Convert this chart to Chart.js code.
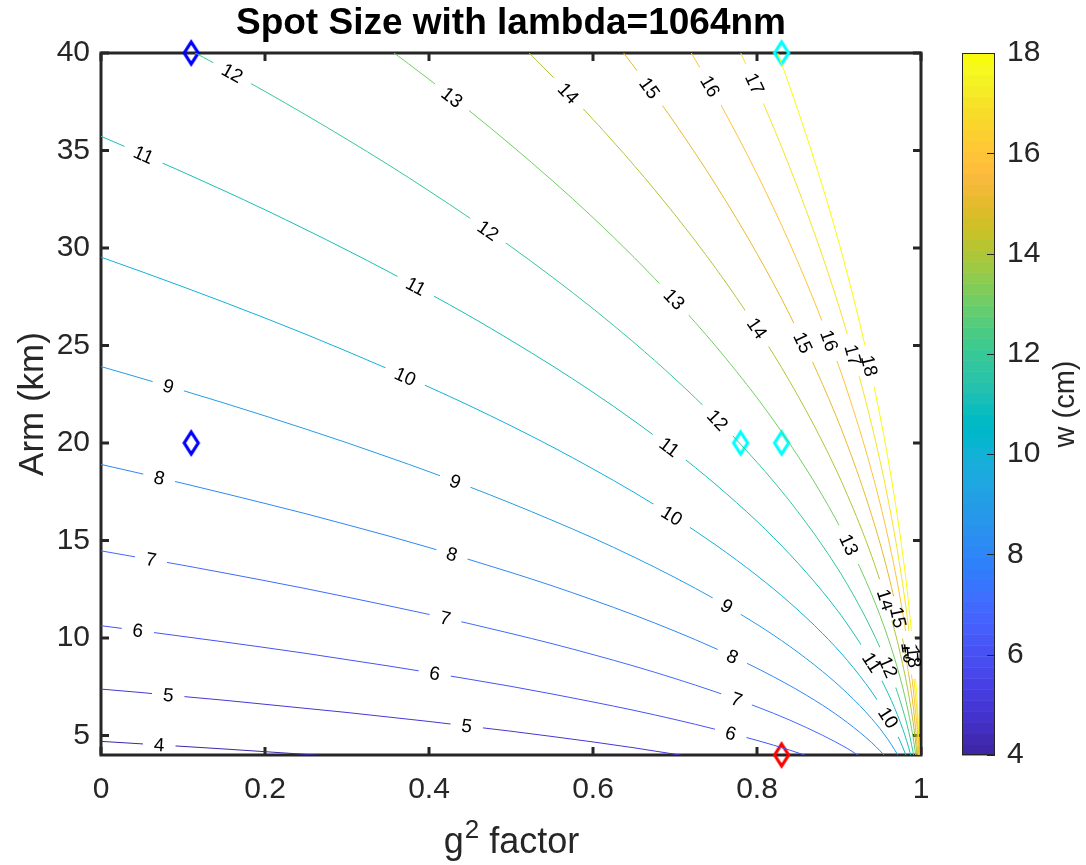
<!DOCTYPE html>
<html><head><meta charset="utf-8">
<script src="https://cdn.jsdelivr.net/npm/chart.js@4.4.1/dist/chart.umd.min.js"></script>
<style>html,body{margin:0;padding:0;background:#fff;}canvas{display:block;}</style>
</head><body>
<canvas id="c" width="1086" height="865" style="width:1086px;height:865px"></canvas>
<script>
// ---------- data ----------
const g2 = [0,0.05,0.1,0.15,0.2,0.25,0.3,0.35,0.4,0.45,0.5,0.55,0.6,0.65,0.7,0.75,0.8,0.84,0.88,0.91,0.94,0.96,0.975,0.985,0.992,0.997,1];
const levels = [4,5,6,7,8,9,10,11,12,13,14,15,16,17,18];
const arm_w4  = [4.70,4.57,4.44,4.31,4.17,4.03,3.89];
const arm_w5  = [7.38,7.20,7.00,6.81,6.60,6.39,6.18,5.95,5.72,5.47,5.22,4.95,4.67,4.37,4.04,3.69];
const arm_w6  = [10.63,10.36,10.08,9.80,9.51,9.21,8.89,8.57,8.23,7.88,7.52,7.13,6.72,6.29,5.82,5.31,4.75,4.25,3.68];
const arm_w7  = [14.47,14.10,13.73,13.34,12.94,12.53,12.10,11.66,11.21,10.73,10.23,9.71,9.15,8.56,7.92,7.23,6.47,5.79,5.01,4.34,3.54];
const arm_w8  = [18.90,18.42,17.93,17.42,16.90,16.37,15.81,15.24,14.64,14.01,13.36,12.68,11.95,11.18,10.35,9.45,8.45,7.56,6.55,5.67,4.63,3.78];
const arm_w9  = [23.92,23.31,22.69,22.05,21.39,20.71,20.01,19.28,18.53,17.74,16.91,16.04,15.13,14.15,13.10,11.96,10.70,9.57,8.28,7.17,5.86,4.78,3.78];
const arm_w10 = [29.53,28.78,28.01,27.22,26.41,25.57,24.70,23.80,22.87,21.90,20.88,19.81,18.67,17.47,16.17,14.76,13.20,11.81,10.23,8.86,7.23,5.91,4.67,3.62];
const arm_w11 = [35.73,34.82,33.89,32.94,31.96,30.94,29.89,28.80,27.67,26.50,25.26,23.97,22.60,21.14,19.57,17.86,15.98,14.29,12.38,10.72,8.75,7.15,5.65,4.38,3.20];
const arm_w12 = [42.52,41.44,40.34,39.20,38.03,36.82,35.57,34.28,32.93,31.53,30.07,28.52,26.89,25.15,23.29,21.26,19.01,17.01,14.73,12.76,10.41,8.50,6.72,5.21,3.80];
const arm_w13 = [null,null,null,null,null,null,41.75,40.23,38.65,37.01,35.28,33.47,31.56,29.52,27.33,24.95,22.32,19.96,17.29,14.97,12.22,9.98,7.89,6.11,4.46,2.73];
const arm_w14 = [null,null,null,null,null,null,null,null,null,42.92,40.92,38.82,36.60,34.24,31.70,28.94,25.88,23.15,20.05,17.36,14.18,11.57,9.15,7.09,5.18,3.17];
const arm_w15 = [null,null,null,null,null,null,null,null,null,null,null,null,42.02,39.30,36.39,33.22,29.71,26.57,23.01,19.93,16.27,13.29,10.50,8.14,5.94,3.64];
const arm_w16 = [null,null,null,null,null,null,null,null,null,null,null,null,null,44.72,41.40,37.79,33.80,30.23,26.18,22.68,18.52,15.12,11.95,9.26,6.76,4.14,0];
const arm_w17 = [null,null,null,null,null,null,null,null,null,null,null,null,null,null,46.74,42.67,38.16,34.13,29.56,25.60,20.90,17.07,13.49,10.45,7.63,4.67,0];
const arm_w18 = [null,null,null,null,null,null,null,null,null,null,null,null,null,null,null,47.83,42.78,38.27,33.14,28.70,23.43,19.13,15.13,11.72,8.56,5.24,0];
const armByLevel = [arm_w4,arm_w5,arm_w6,arm_w7,arm_w8,arm_w9,arm_w10,arm_w11,arm_w12,arm_w13,arm_w14,arm_w15,arm_w16,arm_w17,arm_w18];

const labelLevel = [12,13,14,15,16,17,11,12,11,13,14,15,16,17,18,10,9,12,11,8,9,10,13,8,7,9,7,6,14,15,16,17,18,11,12,10,8,6,5,7,5,6,4];
const labelG2    = [0.16,0.428,0.57,0.669,0.743,0.797,0.052,0.472,0.384,0.699,0.80,0.856,0.888,0.917,0.937,0.371,0.082,0.752,0.693,0.071,0.432,0.696,0.912,0.428,0.061,0.763,0.42,0.045,0.957,0.972,0.985,0.988,0.991,0.94,0.96,0.96,0.77,0.407,0.082,0.775,0.446,0.768,0.071];

const markerG2  = [0.11,0.11,0.78,0.83,0.83,0.83];
const markerArm = [40,20,20,20,40,4];
const markerColor = ['#0000ff','#0000ff','#00ffff','#00ffff','#00ffff','#ff0000'];

const xTicks  = [0,0.2,0.4,0.6,0.8,1];
const yTicks  = [5,10,15,20,25,30,35,40];
const cbTicks = [4,6,8,10,12,14,16,18];

const titleText = 'Spot Size with lambda=1064nm';
const xTitleBase = 'g', xTitleSup = '2', xTitleRest = ' factor';
const yTitleText = 'Arm (km)';
const cbTitleText = 'w (cm)';

// ---------- style ----------
const FONT = "'Liberation Sans', Arial, Helvetica, sans-serif";
const AX = '#262626';
const parula = [[0.2422,0.1504,0.6603],[0.2504,0.1650,0.7076],[0.2578,0.1818,0.7511],[0.2647,0.1978,0.7952],[0.2706,0.2147,0.8364],[0.2751,0.2342,0.8710],[0.2783,0.2559,0.8991],[0.2803,0.2782,0.9221],[0.2813,0.3006,0.9414],[0.2810,0.3228,0.9579],[0.2795,0.3447,0.9717],[0.2760,0.3667,0.9829],[0.2699,0.3892,0.9906],[0.2602,0.4123,0.9952],[0.2440,0.4358,0.9988],[0.2206,0.4603,0.9973],[0.1963,0.4847,0.9892],[0.1834,0.5074,0.9798],[0.1786,0.5289,0.9682],[0.1764,0.5499,0.9520],[0.1687,0.5703,0.9359],[0.1540,0.5902,0.9218],[0.1460,0.6091,0.9079],[0.1380,0.6276,0.8973],[0.1248,0.6459,0.8883],[0.1113,0.6635,0.8763],[0.0952,0.6798,0.8598],[0.0689,0.6948,0.8394],[0.0297,0.7082,0.8163],[0.0036,0.7203,0.7917],[0.0067,0.7312,0.7660],[0.0433,0.7411,0.7394],[0.0964,0.7500,0.7120],[0.1408,0.7584,0.6842],[0.1717,0.7670,0.6554],[0.1938,0.7758,0.6251],[0.2161,0.7843,0.5923],[0.2470,0.7918,0.5567],[0.2906,0.7973,0.5188],[0.3406,0.8008,0.4789],[0.3909,0.8029,0.4354],[0.4456,0.8024,0.3909],[0.5044,0.7993,0.3480],[0.5616,0.7942,0.3045],[0.6174,0.7876,0.2612],[0.6720,0.7793,0.2227],[0.7242,0.7698,0.1910],[0.7738,0.7598,0.1646],[0.8203,0.7498,0.1535],[0.8634,0.7406,0.1596],[0.9035,0.7330,0.1774],[0.9393,0.7288,0.2100],[0.9728,0.7298,0.2394],[0.9956,0.7434,0.2371],[0.9970,0.7659,0.2199],[0.9952,0.7893,0.2028],[0.9892,0.8136,0.1885],[0.9818,0.8380,0.1754],[0.9720,0.8633,0.1663],[0.9631,0.8915,0.1566],[0.9599,0.9218,0.1486],[0.9600,0.9500,0.1400],[0.9643,0.9728,0.1265],[0.9763,0.9831,0.0538]];
function cmap(k){const c=parula[Math.max(0,Math.min(63,k))];return 'rgb('+Math.round(c[0]*255)+','+Math.round(c[1]*255)+','+Math.round(c[2]*255)+')';}
function levelColor(v){return cmap(Math.floor((v-4)/14*64));}

function diamond(color){
  const cv=document.createElement('canvas'); cv.width=22; cv.height=30;
  const c=cv.getContext('2d'); c.strokeStyle=color; c.lineWidth=3.2; c.lineJoin='miter';
  c.beginPath(); c.moveTo(11,4); c.lineTo(18,15); c.lineTo(11,26); c.lineTo(4,15); c.closePath(); c.stroke();
  return cv;
}

const datasets = levels.map((lv,i)=>({
  label:'w='+lv, data: armByLevel[i].map((v,j)=>({x:g2[j], y:v})),
  borderColor: levelColor(lv), borderWidth:1, pointRadius:0, fill:false,
  cubicInterpolationMode:'monotone', capBezierPoints:false, spanGaps:false
}));
datasets.push({
  label:'markers', data: markerG2.map((x,i)=>({x:x, y:markerArm[i]})),
  showLine:false, pointStyle: markerColor.map(diamond), pointRadius:10, clip:false
});

const framePlugin = {
  id:'frame',
  beforeDatasetsDraw(chart){
    const {ctx, chartArea:a, scales} = chart;
    ctx.save();
    ctx.strokeStyle=AX; ctx.lineWidth=3; ctx.lineCap='butt';
    const tl=8;
    ctx.beginPath();
    xTicks.forEach(v=>{const p=scales.x.getPixelForValue(v); ctx.moveTo(p,a.bottom); ctx.lineTo(p,a.bottom-tl); ctx.moveTo(p,a.top); ctx.lineTo(p,a.top+tl);});
    yTicks.forEach(v=>{const p=scales.y.getPixelForValue(v); ctx.moveTo(a.left,p); ctx.lineTo(a.left+tl,p); ctx.moveTo(a.right,p); ctx.lineTo(a.right-tl,p);});
    ctx.stroke();
    ctx.strokeRect(a.left,a.top,a.right-a.left,a.bottom-a.top);
    ctx.restore();
  },
  afterDatasetsDraw(chart){
    const {ctx, chartArea:a, scales} = chart;
    ctx.save();
    ctx.beginPath(); ctx.rect(a.left,a.top,a.right-a.left,a.bottom-a.top); ctx.clip();
    ctx.font = '19px '+FONT; ctx.textAlign='center'; ctx.textBaseline='middle';
    labelLevel.forEach((lv,i)=>{
      const di = levels.indexOf(lv);
      const pts = chart.getDatasetMeta(di).data.filter(p=>!p.skip);
      const px = scales.x.getPixelForValue(labelG2[i]);
      for(let k=0;k<pts.length-1;k++){
        const p0=pts[k], p1=pts[k+1];
        if(px>=p0.x && px<=p1.x){
          const t=(px-p0.x)/(p1.x-p0.x);
          const py=p0.y+t*(p1.y-p0.y);
          let ang=Math.atan2(p1.y-p0.y,p1.x-p0.x);
          if(ang>Math.PI/2) ang-=Math.PI; if(ang<=-Math.PI/2) ang+=Math.PI;
          const txt=String(lv); const w=ctx.measureText(txt).width;
          ctx.save(); ctx.translate(px,py); ctx.rotate(ang);
          ctx.fillStyle='#fff'; ctx.fillRect(-w/2-11,-3,w+22,6);
          ctx.fillStyle='#000'; ctx.fillText(txt,0,1);
          ctx.restore();
          break;
        }
      }
    });
    ctx.restore();
  },
  afterDraw(chart){
    const {ctx, chartArea:a, scales} = chart;
    const cb = scales.cb;
    const L=962, R=995;
    ctx.save();
    for(let k=0;k<64;k++){
      const y0=cb.getPixelForValue(4+14*k/64), y1=cb.getPixelForValue(4+14*(k+1)/64);
      ctx.fillStyle=cmap(k); ctx.fillRect(L,y1,R-L,y0-y1+0.5);
    }
    ctx.strokeStyle=AX; ctx.lineWidth=1;
    const top=cb.getPixelForValue(18), bot=cb.getPixelForValue(4);
    ctx.strokeRect(L+0.5,top+0.5,R-L-1,bot-top-1);
    ctx.beginPath();
    cbTicks.forEach(v=>{const p=Math.round(cb.getPixelForValue(v))+0.5; ctx.moveTo(R,p); ctx.lineTo(R-8,p);});
    ctx.stroke();
    // title
    const cx=(a.left+a.right)/2;
    ctx.fillStyle='#000'; ctx.font='bold 37px '+FONT; ctx.textAlign='center'; ctx.textBaseline='middle';
    ctx.fillText(titleText,cx,24);
    // x title with superscript
    ctx.fillStyle=AX; ctx.textAlign='left'; ctx.textBaseline='alphabetic';
    ctx.font='36px '+FONT; const wg=ctx.measureText(xTitleBase).width; const wr=ctx.measureText(xTitleRest).width;
    ctx.font='26px '+FONT; const ws=ctx.measureText(xTitleSup).width;
    let x0=cx-(wg+ws+wr)/2; const base=853;
    ctx.font='36px '+FONT; ctx.fillText(xTitleBase,x0,base);
    ctx.font='26px '+FONT; ctx.fillText(xTitleSup,x0+wg+1,base-15);
    ctx.font='36px '+FONT; ctx.fillText(xTitleRest,x0+wg+ws+1,base);
    // y title
    ctx.save(); ctx.textAlign='center'; ctx.textBaseline='middle'; ctx.font='35px '+FONT;
    ctx.translate(33,(a.top+a.bottom)/2); ctx.rotate(-Math.PI/2); ctx.fillText(yTitleText,0,0);
    ctx.restore();
    // colorbar label
    ctx.fillStyle=AX; ctx.font='29px '+FONT; ctx.textAlign='center'; ctx.textBaseline='middle';
    ctx.translate(1066,(top+bot)/2); ctx.rotate(-Math.PI/2); ctx.fillText(cbTitleText,0,0);
    ctx.restore();
  }
};

function noPad(s){ s.paddingTop=0; s.paddingBottom=0; }
const tickFont = {family:FONT, size:30};
new Chart(document.getElementById('c'), {
  type:'line',
  data:{datasets},
  plugins:[framePlugin],
  options:{
    responsive:false, animation:false, devicePixelRatio:1, events:[],
    layout:{padding:{top:53,left:0,right:0,bottom:0}},
    plugins:{ legend:{display:false}, tooltip:{enabled:false}, title:{display:false} },
    scales:{
      x:{type:'linear', min:0, max:1,
        afterBuildTicks:s=>{s.ticks=xTicks.map(v=>({value:v}));},
        afterFit:s=>{s.height=110; s.paddingLeft=0; s.paddingRight=0;},
        grid:{display:false, drawTicks:false}, border:{display:false},
        ticks:{color:AX, font:tickFont, padding:17, maxRotation:0, autoSkip:false, callback:v=>String(v)}
      },
      y:{type:'linear', min:4, max:40,
        afterBuildTicks:s=>{s.ticks=yTicks.map(v=>({value:v}));},
        afterFit:s=>{s.width=101; noPad(s);},
        grid:{display:false, drawTicks:false}, border:{display:false},
        ticks:{color:AX, font:tickFont, padding:11, autoSkip:false, callback:v=>String(v)}
      },
      cb:{type:'linear', position:'right', min:4, max:18,
        afterBuildTicks:s=>{s.ticks=cbTicks.map(v=>({value:v}));},
        afterFit:s=>{s.width=165; noPad(s);},
        grid:{display:false, drawTicks:false}, border:{display:false},
        ticks:{color:AX, font:tickFont, padding:86, autoSkip:false, callback:v=>String(v)}
      }
    }
  }
});
</script>
</body></html>
